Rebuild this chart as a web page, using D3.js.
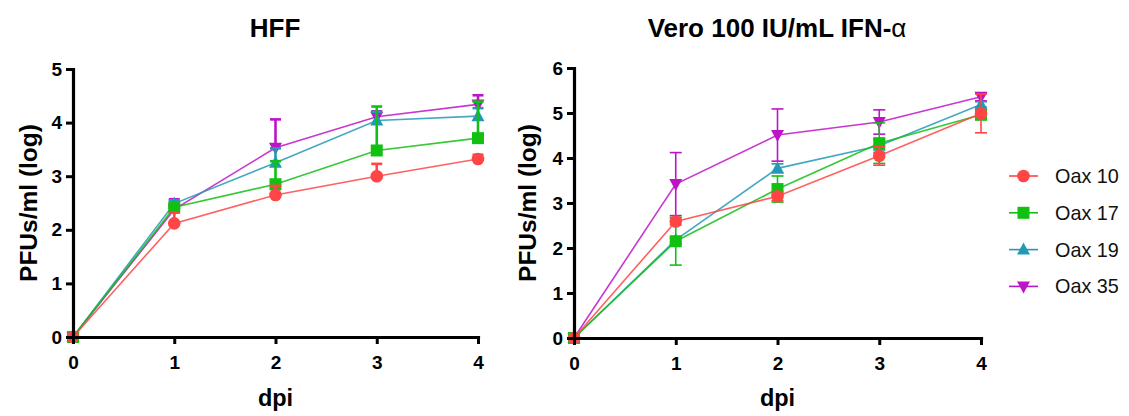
<!DOCTYPE html>
<html>
<head>
<meta charset="utf-8">
<script src="https://cdn.jsdelivr.net/npm/d3@7"></script>
<style>
  html, body { margin: 0; padding: 0; background: #fff; }
  svg { display: block; font-family: "Liberation Sans", Arial, Helvetica, sans-serif; }
</style>
</head>
<body>
<svg id="chart" width="1129" height="416"></svg>
<script>
// Days post infection
const dpi = [0, 1, 2, 3, 4];
const xTicks = [0, 1, 2, 3, 4];

// Strain names, in legend order
const strains = ["Oax 10", "Oax 17", "Oax 19", "Oax 35"];

// HFF: mean log PFU/ml and SD
const hffOax10 = [0, 2.12, 2.65, 3.00, 3.32];
const hffOax17 = [0, 2.42, 2.85, 3.48, 3.71];
const hffOax19 = [0, 2.49, 3.25, 4.04, 4.12];
const hffOax35 = [0, 2.38, 3.53, 4.11, 4.34];
const hffErr10 = [0, 0.20, 0.17, 0.23, 0.08];
const hffErr17 = [0, 0.05, 0.43, 0.82, 0.68];
const hffErr19 = [0, 0.06, 0.27, 0.16, 0.15];
const hffErr35 = [0, 0.19, 0.53, 0.10, 0.17];
const hffYTicks = [0, 1, 2, 3, 4, 5];

// Vero + 100 IU/mL IFN-alpha: mean log PFU/ml and SD
const veroOax10 = [0, 2.59, 3.15, 4.05, 4.99];
const veroOax17 = [0, 2.15, 3.31, 4.33, 4.96];
const veroOax19 = [0, 2.18, 3.77, 4.27, 5.19];
const veroOax35 = [0, 3.42, 4.51, 4.80, 5.36];
const veroErr10 = [0, 0.08, 0.10, 0.21, 0.43];
const veroErr17 = [0, 0.53, 0.29, 0.45, 0.08];
const veroErr19 = [0, 0.05, 0.10, 0.15, 0.06];
const veroErr35 = [0, 0.70, 0.58, 0.27, 0.09];
const veroYTicks = [0, 1, 2, 3, 4, 5, 6];

const colors = {
  "Oax 10": "#FF4545",
  "Oax 17": "#12C012",
  "Oax 19": "#2399B6",
  "Oax 35": "#BE14C8"
};
const symbols = {
  "Oax 10": "circle",
  "Oax 17": "square",
  "Oax 19": "up",
  "Oax 35": "down"
};

const svg = d3.select("#chart");
const FONT = "'Liberation Sans', Arial, Helvetica, sans-serif";

function drawMarker(g, kind, cx, cy, color) {
  if (kind === "circle") {
    g.append("circle").attr("cx", cx).attr("cy", cy).attr("r", 6.3).attr("fill", color);
  } else if (kind === "square") {
    g.append("rect").attr("x", cx - 6).attr("y", cy - 6).attr("width", 12).attr("height", 12).attr("fill", color);
  } else if (kind === "up") {
    g.append("path").attr("d", `M${cx},${cy - 7}L${cx + 6.5},${cy + 5}L${cx - 6.5},${cy + 5}Z`).attr("fill", color);
  } else {
    g.append("path").attr("d", `M${cx},${cy + 7}L${cx + 6.5},${cy - 5}L${cx - 6.5},${cy - 5}Z`).attr("fill", color);
  }
}

function panel(opts) {
  const x = d3.scaleLinear().domain([0, 4]).range(opts.xRange);
  const y = d3.scaleLinear().domain([0, opts.yMax]).range(opts.yRange);
  const g = svg.append("g");

  // Title
  const t = g.append("text")
    .attr("x", opts.titleX).attr("y", 37)
    .attr("text-anchor", "middle")
    .attr("font-family", FONT).attr("font-weight", "bold").attr("font-size", 26)
    .attr("fill", "#000");
  opts.title(t);

  // Series: error bars, connecting line, markers
  const line = d3.line().x((d, i) => x(dpi[i])).y(d => y(d));
  opts.series.forEach(s => {
    const c = colors[s.name];
    const sg = g.append("g");
    s.values.forEach((v, i) => {
      const e = s.err[i];
      if (!e) return;
      const top = y(v + e);
      const bot = opts.errBoth ? y(v - e) : y(v);
      const cx = x(dpi[i]);
      sg.append("line").attr("x1", cx).attr("x2", cx).attr("y1", top).attr("y2", bot)
        .attr("stroke", c).attr("stroke-width", opts.errWidth);
      sg.append("line").attr("x1", cx - opts.capHalf).attr("x2", cx + opts.capHalf).attr("y1", top).attr("y2", top)
        .attr("stroke", c).attr("stroke-width", opts.errWidth);
      if (opts.errBoth) {
        sg.append("line").attr("x1", cx - opts.capHalf).attr("x2", cx + opts.capHalf).attr("y1", bot).attr("y2", bot)
          .attr("stroke", c).attr("stroke-width", opts.errWidth);
      }
    });
    sg.append("path").datum(s.values).attr("d", line)
      .attr("fill", "none").attr("stroke", c).attr("stroke-width", 1.6).attr("stroke-opacity", 0.85);
    s.values.forEach((v, i) => drawMarker(sg, symbols[s.name], x(dpi[i]), y(v), c));
  });

  // Axes
  const xAxis = g.append("g").attr("transform", `translate(0,${opts.yRange[0]})`)
    .call(d3.axisBottom(x).tickValues(xTicks).tickFormat(d3.format("d")).tickSize(7).tickSizeOuter(0).tickPadding(12));
  const yAxis = g.append("g").attr("transform", `translate(${opts.xRange[0]},0)`)
    .call(d3.axisLeft(y).tickValues(opts.yTicks).tickFormat(d3.format("d")).tickSize(7).tickSizeOuter(0).tickPadding(4));
  [xAxis, yAxis].forEach(a => {
    a.select(".domain").attr("stroke", "#000").attr("stroke-width", 3.2).attr("stroke-linecap", "square");
    a.selectAll(".tick line").attr("stroke", "#000").attr("stroke-width", 3);
    a.selectAll(".tick text").attr("fill", "#000").attr("font-family", FONT)
      .attr("font-weight", "bold").attr("font-size", 19);
  });

  // Axis titles
  g.append("text")
    .attr("x", (opts.xRange[0] + opts.xRange[1]) / 2).attr("y", 406)
    .attr("text-anchor", "middle")
    .attr("font-family", FONT).attr("font-weight", "bold").attr("font-size", 23.5)
    .text("dpi");
  g.append("text")
    .attr("transform", `translate(${opts.yLabelX},${(opts.yRange[0] + opts.yRange[1]) / 2}) rotate(-90)`)
    .attr("text-anchor", "middle")
    .attr("font-family", FONT).attr("font-weight", "bold").attr("font-size", 24.5)
    .text("PFUs/ml (log)");
}

// Draw order: last series on top
function seriesList(vals, errs) {
  return [3, 2, 1, 0].map(i => ({ name: strains[i], values: vals[i], err: errs[i] }));
}

panel({
  xRange: [73, 478], yRange: [337, 69], yMax: 5, yTicks: hffYTicks,
  titleX: 275, yLabelX: 37,
  errBoth: false, errWidth: 2.6, capHalf: 5.5,
  title: t => t.text("HFF"),
  series: seriesList([hffOax10, hffOax17, hffOax19, hffOax35], [hffErr10, hffErr17, hffErr19, hffErr35])
});

panel({
  xRange: [574, 981], yRange: [338, 68], yMax: 6, yTicks: veroYTicks,
  titleX: 777, yLabelX: 536,
  errBoth: true, errWidth: 1.6, capHalf: 6,
  title: t => {
    t.append("tspan").text("Vero 100 IU/mL IFN-");
    t.append("tspan").attr("font-weight", "normal").text("\u03B1");
  },
  series: seriesList([veroOax10, veroOax17, veroOax19, veroOax35], [veroErr10, veroErr17, veroErr19, veroErr35])
});

// Legend
const legend = svg.append("g");
strains.forEach((name, i) => {
  const cy = 176 + i * 36.8;
  const c = colors[name];
  legend.append("line").attr("x1", 1009).attr("x2", 1038).attr("y1", cy).attr("y2", cy)
    .attr("stroke", c).attr("stroke-width", 1.6);
  drawMarker(legend, symbols[name], 1023.5, cy, c);
  legend.append("text").attr("x", 1055).attr("y", cy + 7)
    .attr("font-family", FONT).attr("font-size", 19.8).attr("fill", "#111")
    .text(name);
});
</script>
</body>
</html>
